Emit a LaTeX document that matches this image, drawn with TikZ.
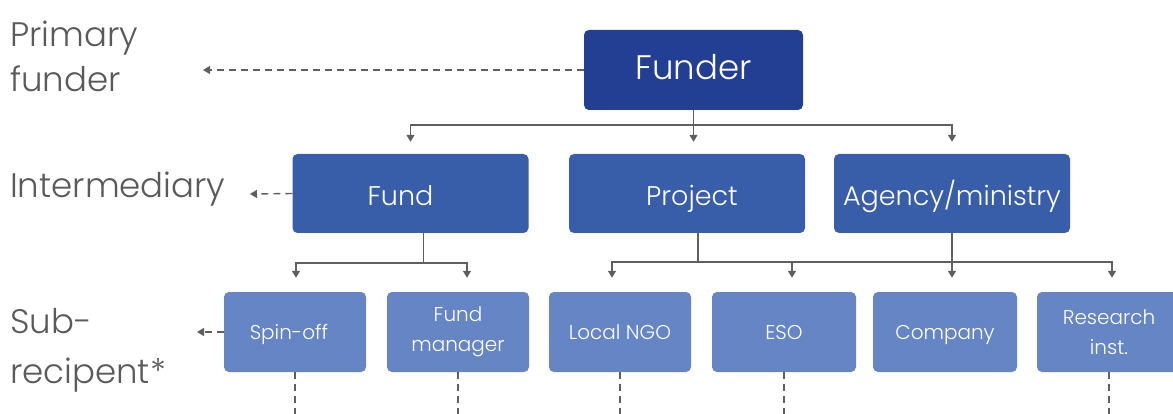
\documentclass[tikz,border=0pt]{standalone}
\usepackage{fontspec}
\IfFontExistsTF{Poppins Light}{\setmainfont{Poppins Light}}{\setmainfont{Poppins}}
\usetikzlibrary{arrows.meta,calc}
\definecolor{cTop}{HTML}{233F93}
\definecolor{cMid}{HTML}{385EAA}
\definecolor{cLow}{HTML}{6585C5}
\definecolor{cLine}{HTML}{5F5F5F}
\definecolor{cLabel}{HTML}{5A5A5A}
\begin{document}
\begin{tikzpicture}[x=1pt,y=-1pt,
  box/.style={rounded corners=5pt, text=white, inner sep=0pt, align=center},
  lvlzero/.style={box, fill=cTop, minimum width=219pt, minimum height=80pt, text height=20pt, text depth=0pt, font=\fontsize{34}{40}\selectfont},
  lvlone/.style={box, fill=cMid, minimum width=236pt, minimum height=79pt, text height=25pt, text depth=0pt, font=\fontsize{27}{32}\selectfont},
  lvltwo/.style={box, fill=cLow, minimum height=80pt, font=\fontsize{20}{30}\selectfont},
  oneline/.style={text height=14pt, text depth=0pt},
  conn/.style={draw=cLine, line width=1.4pt},
  arr/.style={conn, -{Triangle[length=7pt,width=8pt]}},
  darr/.style={arr, dash pattern=on 7pt off 5pt},
  lbl/.style={text=cLabel, anchor=base west, inner sep=0pt, font=\fontsize{34}{40}\selectfont}]
\useasboundingbox (0,0) rectangle (1173,414);

% level labels
\node[lbl] (lp1) at (10,47) {Primary};
\node[lbl] (lp2) at (10,92) {funder};
\node[lbl] (li) at (10,198) {Intermediary};
\node[lbl] (ls1) at (10,333) {Sub-};
\node[lbl] (ls2) at (10,383) {recipent*};

% boxes
\node[lvlzero] (funder) at (693.5,70) {Funder};
\node[lvlone] (fund) at (410.5,193.5) {\hspace*{-20pt}Fund};
\node[lvlone] (project) at (687,193.5) {Project\hspace*{-10pt}};
\node[lvlone] (agency) at (952,193.5) {Agency/ministry};
\node[lvltwo, oneline, minimum width=142pt] (spin) at (295,332) {\hspace*{-12pt}Spin-off};
\node[lvltwo, minimum width=142pt] (fman) at (458,332) {Fund\\manager};
\node[lvltwo, oneline, minimum width=142pt] (ngo) at (620,332) {Local NGO};
\node[lvltwo, oneline, minimum width=144pt] (eso) at (784,332) {ESO};
\node[lvltwo, oneline, minimum width=144pt] (comp) at (945,332) {Company};
\node[lvltwo, minimum width=144pt] (res) at (1109,332) {Research\\inst.};

% dashed side arrows
\coordinate (pfend) at (203,70);
\coordinate (ifend) at (250,194);
\coordinate (sfend) at (197,332);
\draw[darr] (funder.west) -- (pfend);
\draw[darr] (fund.west) -- (ifend);
\draw[darr] (spin.west) -- (sfend);

% dashed down arrows (cut off by the page edge)
\coordinate (bottom) at (0,421);
\foreach \n in {spin,fman,ngo,eso,res}
  \draw[darr] (\n.south) -- (\n.south |- bottom);

% tree: funder to intermediaries
\coordinate (fj) at ($(funder.south)+(0,15)$);
\draw[arr, shorten >=12pt] (funder.south) -- (funder.south |- project.north);
\draw[arr, shorten >=12pt] (fj) -| (fund.north);
\draw[arr, shorten >=12pt] (fj) -| (agency.north);

% fund to sub-recipients
\coordinate (fundj) at ($(fund.south)+(13,30)$);
\draw[conn] ([xshift=13pt]fund.south) -- (fundj);
\draw[arr, shorten >=14pt] (fundj) -| ([xshift=1pt]spin.north);
\draw[arr, shorten >=14pt] (fundj) -| ([xshift=9pt]fman.north);

% project to sub-recipients
\coordinate (pj) at ($(project.south)+(11,29)$);
\draw[conn] ([xshift=11pt]project.south) -- (pj);
\draw[arr, shorten >=14pt] (pj) -| ([xshift=-8pt]ngo.north);
\draw[arr, shorten >=14pt] (pj) -| ([xshift=8pt]eso.north);
\draw[arr, shorten >=14pt] (pj) -| ([xshift=3pt]res.north);

% agency to company
\draw[arr, shorten >=14pt] (agency.south) -- (agency.south |- comp.north);
\end{tikzpicture}
\end{document}
